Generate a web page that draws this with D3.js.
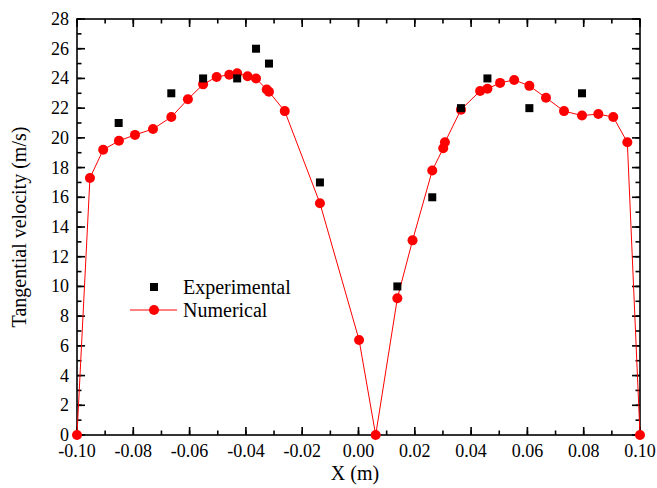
<!DOCTYPE html>
<html>
<head>
<meta charset="utf-8">
<script src="https://cdn.jsdelivr.net/npm/d3@7"></script>
<style>
  body { margin: 0; background: #fff; }
</style>
</head>
<body>
<svg id="chart" width="657" height="488"></svg>
<script>
// numerical result (red circles + line)
var numX = [-0.1, -0.0954, -0.0907, -0.0851, -0.0794, -0.0730, -0.0665, -0.0606, -0.0552, -0.0504,
            -0.0459, -0.0431, -0.0394, -0.0364, -0.0326, -0.0318, -0.0262, -0.0137, 0.0002, 0.0061,
            0.0138, 0.0192, 0.0262, 0.0301, 0.0307, 0.0364, 0.0432, 0.0458, 0.0503, 0.0553,
            0.0607, 0.0666, 0.0730, 0.0794, 0.0852, 0.0905, 0.0955, 0.1];
var numY = [0, 17.3, 19.2, 19.8, 20.2, 20.6, 21.4, 22.6, 23.6, 24.1,
            24.25, 24.35, 24.15, 24.0, 23.25, 23.1, 21.8, 15.6, 6.4, 0,
            9.2, 13.1, 17.8, 19.3, 19.7, 21.9, 23.15, 23.3, 23.7, 23.9,
            23.5, 22.7, 21.8, 21.5, 21.6, 21.4, 19.7, 0];

// experimental (black squares)
var expX = [-0.0852, -0.0665, -0.0552, -0.0431, -0.0364, -0.0318, -0.0137, 0.0138, 0.0262, 0.0364, 0.0458, 0.0607, 0.0794];
var expY = [21, 23, 24, 24, 26, 25, 17, 10, 16, 22, 24, 22, 23];

var xTicks = [-0.10, -0.08, -0.06, -0.04, -0.02, 0.00, 0.02, 0.04, 0.06, 0.08, 0.10];
var yTicks = [0, 2, 4, 6, 8, 10, 12, 14, 16, 18, 20, 22, 24, 26, 28];

var svg = d3.select("#chart")
        .attr("font-family", "'Liberation Serif', 'Times New Roman', 'DejaVu Serif', serif"),
    margin = {left: 77, right: 17, top: 19, bottom: 53},
    W = 657, H = 488,
    x = d3.scaleLinear().domain([-0.1, 0.1]).range([margin.left, W - margin.right]),
    y = d3.scaleLinear().domain([0, 28]).range([H - margin.bottom, margin.top]);

var xMinor = d3.range(-0.1, 0.1001, 0.01),
    yMinor = d3.range(0, 28.01, 1);

var frame = svg.append("g");

// inward ticks on all four sides
function ticks(vals, len, axis) {
    vals.forEach(function(v) {
        if (axis == "x") {
            var px = x(v);
            frame.append("line").attr("x1", px).attr("x2", px)
                .attr("y1", y(0)).attr("y2", y(0) - len);
            frame.append("line").attr("x1", px).attr("x2", px)
                .attr("y1", y(28)).attr("y2", y(28) + len);
        } else {
            var py = y(v);
            frame.append("line").attr("y1", py).attr("y2", py)
                .attr("x1", x(-0.1)).attr("x2", x(-0.1) + len);
            frame.append("line").attr("y1", py).attr("y2", py)
                .attr("x1", x(0.1)).attr("x2", x(0.1) - len);
        }
    });
}
ticks(xMinor, 4.5, "x");
ticks(xTicks, 8, "x");
ticks(yMinor, 4.5, "y");
ticks(yTicks, 8, "y");

frame.append("rect")
    .attr("x", x(-0.1)).attr("y", y(28))
    .attr("width", x(0.1) - x(-0.1)).attr("height", y(0) - y(28))
    .attr("fill", "none");

frame.selectAll("line,rect").attr("stroke", "#000").attr("stroke-width", 1.6);

// tick labels
svg.append("g").selectAll("text").data(xTicks).enter().append("text")
    .attr("x", (d) => x(d)).attr("y", y(0) + 22)
    .attr("text-anchor", "middle").attr("font-size", 18)
    .text((d) => d3.format(".2f")(d).replace("−", "-"));

svg.append("g").selectAll("text").data(yTicks).enter().append("text")
    .attr("x", x(-0.1) - 8).attr("y", (d) => y(d) + 6)
    .attr("text-anchor", "end").attr("font-size", 18)
    .text((d) => d);

// axis titles
svg.append("text").attr("x", 355).attr("y", 480)
    .attr("text-anchor", "middle").attr("font-size", 20).text("X (m)");
svg.append("text")
    .attr("transform", "translate(26," + ((y(0) + y(28)) / 2) + ") rotate(-90)")
    .attr("text-anchor", "middle").attr("font-size", 20).text("Tangential velocity (m/s)");

// numerical line + circles
var num = numX.map((d, i) => ({x: d, y: numY[i]}));
var line = d3.line().x((d) => x(d.x)).y((d) => y(d.y));

svg.append("path").datum(num)
    .attr("d", line).attr("fill", "none")
    .attr("stroke", "#ff0000").attr("stroke-width", 1);

svg.append("g").selectAll("circle").data(num).enter().append("circle")
    .attr("cx", (d) => x(d.x)).attr("cy", (d) => y(d.y))
    .attr("r", 5).attr("fill", "#ff0000");

// experimental squares
var exp = expX.map((d, i) => ({x: d, y: expY[i]}));
svg.append("g").selectAll("rect").data(exp).enter().append("rect")
    .attr("x", (d) => x(d.x) - 4).attr("y", (d) => y(d.y) - 4)
    .attr("width", 8).attr("height", 8).attr("fill", "#000");

// legend
var lg = svg.append("g");
lg.append("rect").attr("x", 150).attr("y", 283).attr("width", 8).attr("height", 8).attr("fill", "#000");
lg.append("text").attr("x", 183).attr("y", 294).attr("font-size", 20).text("Experimental");
lg.append("line").attr("x1", 130).attr("x2", 177).attr("y1", 310).attr("y2", 310)
    .attr("stroke", "#ff0000").attr("stroke-width", 1);
lg.append("circle").attr("cx", 154).attr("cy", 310).attr("r", 5).attr("fill", "#ff0000");
lg.append("text").attr("x", 183).attr("y", 317).attr("font-size", 20).text("Numerical");
</script>
</body>
</html>
